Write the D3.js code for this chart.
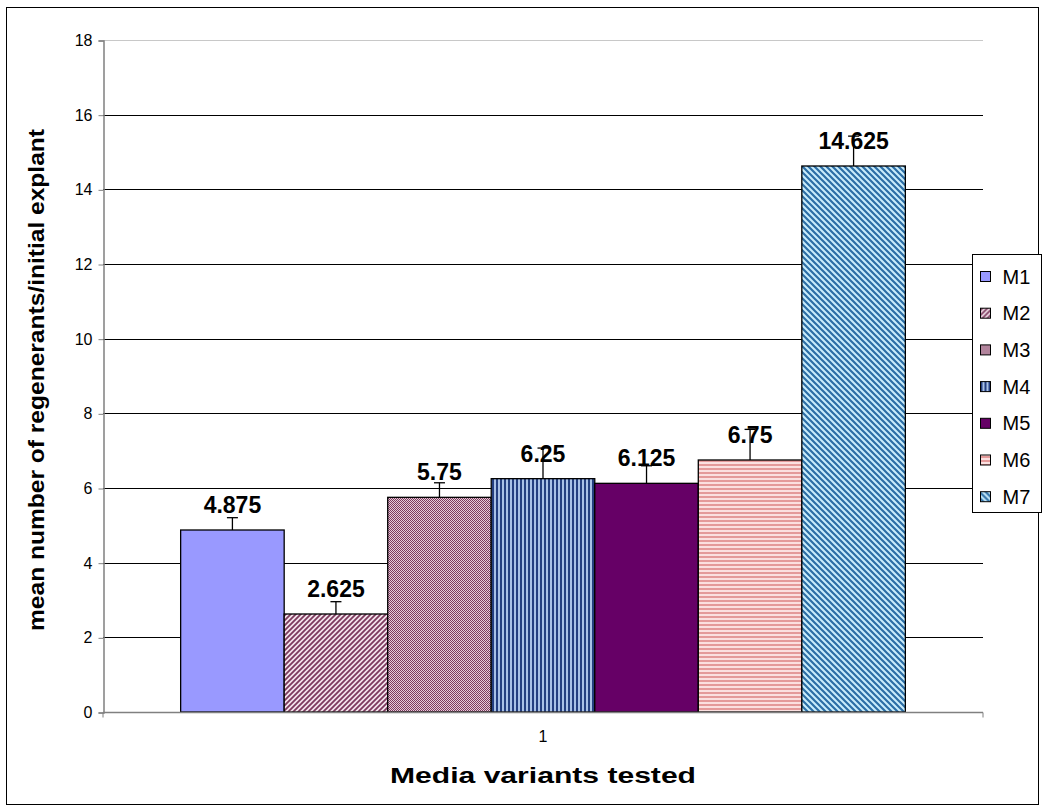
<!DOCTYPE html>
<html>
<head>
<meta charset="utf-8">
<script src="https://cdn.jsdelivr.net/npm/d3@7"></script>
<style>
  body { margin:0; background:#fff; }
  text { font-family:"Liberation Sans", Arial, sans-serif; }
</style>
</head>
<body>
<svg id="svg" width="1045" height="811"></svg>
<script>
var series = ["M1","M2","M3","M4","M5","M6","M7"],
    means  = [4.875, 2.625, 5.75, 6.25, 6.125, 6.75, 14.625],
    errs   = [0.33, 0.33, 0.39, 0.82, 0.47, 0.82, 0.8],
    labels = ["4.875","2.625","5.75","6.25","6.125","6.75","14.625"],
    yTicks = [0,2,4,6,8,10,12,14,16,18],
    cats   = ["1"];

var svg = d3.select("#svg"),
    defs = svg.append("defs");

var L = 103, R = 983, T = 40, B = 712;

var y = d3.scaleLinear().domain([0,18]).range([B,T]);
var xc = d3.scaleBand().domain(cats).range([L,R]);
var xs = d3.scaleBand().domain(series).range([L,R]).paddingInner(0).paddingOuter(0.75);

// patterns for the bar fills
function pat(id, w, h, bg, draw) {
  var p = defs.append("pattern").attr("id",id).attr("patternUnits","userSpaceOnUse")
      .attr("width",w).attr("height",h);
  p.append("rect").attr("width",w).attr("height",h).attr("fill",bg);
  draw(p);
}
pat("p2", 5, 5, "#f4e4ec", function(p){
  p.append("path").attr("d","M-1,6 L6,-1 M-1,1 L1,-1 M4,6 L6,4").attr("stroke","#7d3a5e").attr("stroke-width",1.8);
});
pat("p3", 2, 2, "#e6cdd9", function(p){
  p.append("rect").attr("width",1).attr("height",1).attr("fill","#7d3a5e");
  p.append("rect").attr("x",1).attr("y",1).attr("width",1).attr("height",1).attr("fill","#7d3a5e");
});
pat("p4", 4, 4, "#a9c1e6", function(p){
  p.append("rect").attr("width",2).attr("height",4).attr("fill","#243f80");
});
pat("p6", 4, 4, "#fbe0e0", function(p){
  p.append("rect").attr("width",4).attr("height",2).attr("fill","#e49a9a");
});
pat("p7", 6, 6, "#c9ecfb", function(p){
  p.append("path").attr("d","M-1,-1 L7,7 M-1,5 L1,7 M5,-1 L7,1").attr("stroke","#2c6ea6").attr("stroke-width",2.2);
});
var fills = ["#9999ff","url(#p2)","url(#p3)","url(#p4)","#660066","url(#p6)","url(#p7)"];

// outer chart border
svg.append("rect").attr("x",6.5).attr("y",7.5).attr("width",1032).attr("height",797)
  .attr("fill","#fff").attr("stroke","#000");

// gridlines
svg.append("g").selectAll("line").data(yTicks.slice(1)).enter().append("line")
  .attr("x1",L).attr("x2",R).attr("y1",d=>Math.round(y(d))+0.5).attr("y2",d=>Math.round(y(d))+0.5)
  .attr("stroke",d=>d===18?"#c8c8c8":"#000");

// y axis
var ya = svg.append("g").attr("transform","translate("+(L+0.5)+",0.5)")
  .call(d3.axisLeft(y).tickValues(yTicks).tickSize(5).tickPadding(6));
ya.select(".domain").attr("stroke","#808080").attr("stroke-width",1.5);
ya.selectAll(".tick line").attr("stroke","#808080");
ya.selectAll(".tick text").attr("font-size",16).attr("fill","#000")
  .attr("font-family","Liberation Sans, Arial, sans-serif");

// bars
var bars = svg.append("g");
bars.selectAll("rect").data(series).enter().append("rect")
  .attr("x",d=>xs(d)).attr("width",xs.bandwidth())
  .attr("y",(d,i)=>y(means[i])).attr("height",(d,i)=>B-y(means[i]))
  .attr("fill",(d,i)=>fills[i]).attr("stroke","#000").attr("stroke-width",1.3);

// error bars (upper only)
var eb = svg.append("g").attr("stroke","#000").attr("stroke-width",1.3);
eb.selectAll(".v").data(series).enter().append("line")
  .attr("x1",d=>xs(d)+xs.bandwidth()/2).attr("x2",d=>xs(d)+xs.bandwidth()/2)
  .attr("y1",(d,i)=>y(means[i])).attr("y2",(d,i)=>y(means[i]+errs[i]));
eb.selectAll(".c").data(series).enter().append("line")
  .attr("x1",d=>xs(d)+xs.bandwidth()/2-5.5).attr("x2",d=>xs(d)+xs.bandwidth()/2+5.5)
  .attr("y1",(d,i)=>y(means[i]+errs[i])).attr("y2",(d,i)=>y(means[i]+errs[i]));

// value labels
svg.append("g").selectAll("text").data(series).enter().append("text")
  .attr("x",d=>xs(d)+xs.bandwidth()/2).attr("y",(d,i)=>y(means[i])-17)
  .attr("text-anchor","middle").attr("font-size",23).attr("font-weight","bold")
  .text((d,i)=>labels[i]);

// x axis
var xa = svg.append("g").attr("transform","translate(0,"+(B+0.5)+")");
xa.append("line").attr("x1",L).attr("x2",R).attr("stroke","#808080").attr("stroke-width",1.5);
xa.selectAll(".t").data([L,R]).enter().append("line")
  .attr("x1",d=>d).attr("x2",d=>d).attr("y1",0).attr("y2",5).attr("stroke","#808080");
xa.selectAll("text").data(cats).enter().append("text")
  .attr("x",d=>xc(d)+xc.bandwidth()/2).attr("y",29).attr("text-anchor","middle")
  .attr("font-size",16).text(d=>d);

// axis titles
svg.append("text").attr("x",(L+R)/2).attr("y",783).attr("text-anchor","middle")
  .attr("font-size",22).attr("font-weight","bold")
  .attr("textLength",306).attr("lengthAdjust","spacingAndGlyphs")
  .text("Media variants tested");
svg.append("text").attr("transform","translate(44,380) rotate(-90)")
  .attr("text-anchor","middle").attr("font-size",22).attr("font-weight","bold")
  .attr("textLength",502).attr("lengthAdjust","spacingAndGlyphs")
  .text("mean number of regenerants/initial explant");

// legend
var lg = svg.append("g").attr("transform","translate(972.5,254.5)");
lg.append("rect").attr("width",69).attr("height",258).attr("fill","#fff").attr("stroke","#000");
var li = lg.selectAll("g").data(series).enter().append("g")
  .attr("transform",(d,i)=>"translate(0,"+(22+36.7*i)+")");
li.append("rect").attr("x",8).attr("y",-5).attr("width",10).attr("height",10)
  .attr("fill",(d,i)=>fills[i]).attr("stroke","#000");
li.append("text").attr("x",30).attr("y",7).attr("font-size",20).text(d=>d);
</script>
</body>
</html>
